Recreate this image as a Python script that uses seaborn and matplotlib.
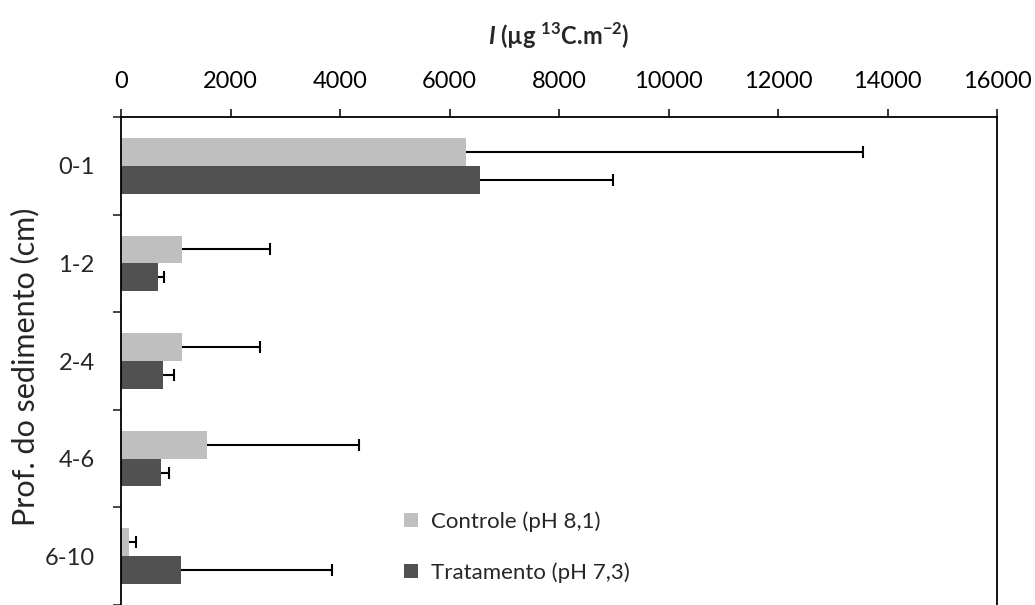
import matplotlib
matplotlib.use("Agg")
import matplotlib.pyplot as plt
from matplotlib.patches import Patch
import numpy as np
import pandas as pd
import seaborn as sns

# Sediment depth layers and 13C incorporation (mean and upper error)
depths = ["0-1", "1-2", "2-4", "4-6", "6-10"]
controle = [6300, 1120, 1120, 1570, 140]
controle_err = [7250, 1610, 1420, 2780, 125]
tratamento = [6550, 680, 760, 730, 1100]
tratamento_err = [2430, 110, 210, 150, 2760]
groups = ["Controle (pH 8,1)", "Tratamento (pH 7,3)"]
colors = ["#BFBFBF", "#515151"]
x_ticks = [0, 2000, 4000, 6000, 8000, 10000, 12000, 14000, 16000]

sns.set_style("white")
plt.rcParams["font.family"] = ["Lato", "DejaVu Sans"]
plt.rcParams["mathtext.fontset"] = "custom"
plt.rcParams["mathtext.rm"] = "Lato"
plt.rcParams["mathtext.bf"] = "Lato:bold"
plt.rcParams["mathtext.bfit"] = "Lato:bold:italic"

df = pd.DataFrame({
    "depth": depths * 2,
    "value": controle + tratamento,
    "group": [groups[0]] * len(depths) + [groups[1]] * len(depths),
})

W, H = 1035, 605
fig = plt.figure(figsize=(W / 100, H / 100), dpi=100)
left, right, top, bottom = 121, 997, 117, 605
ax = fig.add_axes([left / W, 1 - bottom / H, (right - left) / W, (bottom - top) / H])

sns.barplot(data=df, x="value", y="depth", hue="group", order=depths,
            hue_order=groups, palette=colors, orient="h", width=0.57,
            errorbar=None, saturation=1, linewidth=0, legend=False, ax=ax)

# one-sided error bars: line from bar end, cap only at the outer end
for cont, errs in zip(ax.containers, [controle_err, tratamento_err]):
    ys = np.array([b.get_y() + b.get_height() / 2 for b in cont])
    vals = np.array([b.get_width() for b in cont])
    errs = np.array(errs)
    ax.hlines(ys, vals, vals + errs, colors="black", linewidth=1.5, zorder=5)
    ax.plot(vals + errs, ys, linestyle="none", marker="|", markersize=9,
            markeredgewidth=1.5, color="black", zorder=5)

ax.set_xlim(0, 16000)
ax.set_ylim(4.5, -0.5)

ax.xaxis.tick_top()
ax.set_xticks(x_ticks)
ax.set_xticklabels([str(t) for t in x_ticks])
ax.tick_params(axis="x", direction="out", length=6, width=1.1, pad=12,
               labelsize=17, top=True, bottom=False, colors="black")

ax.set_yticks(range(len(depths)))
ax.set_yticklabels(depths)
ax.set_yticks(np.arange(-0.5, len(depths), 1), minor=True)
ax.tick_params(axis="y", which="major", length=0, pad=19, labelsize=17)
ax.tick_params(axis="y", which="minor", direction="out", length=6, width=1.2, left=True)

ax.set_xlabel("")
ax.set_ylabel("Prof. do sedimento (cm)", fontsize=22, va="center")
ax.yaxis.set_label_coords(-0.109, 0.488)

for side in ["left", "top", "right"]:
    ax.spines[side].set_visible(True)
    ax.spines[side].set_color("black")
    ax.spines[side].set_linewidth(1.3)
ax.spines["bottom"].set_visible(False)

fig.text((left + right) / 2 / W, 1 - 36 / H,
         r"$\mathbfit{I}$ (µg $^{\mathbf{13}}$C.m$^{\mathbf{-2}}$)",
         ha="center", va="center", fontsize=17, fontweight="bold")

handles = [Patch(facecolor=c, edgecolor="none") for c in colors]
fig.legend(handles, groups, loc="center left", bbox_to_anchor=(404 / W, 1 - 547 / H),
           frameon=False, fontsize=16, handlelength=0.62, handleheight=0.62,
           handletextpad=0.6, labelspacing=1.35, borderpad=0, borderaxespad=0)

fig.savefig("out.png", dpi=100)
